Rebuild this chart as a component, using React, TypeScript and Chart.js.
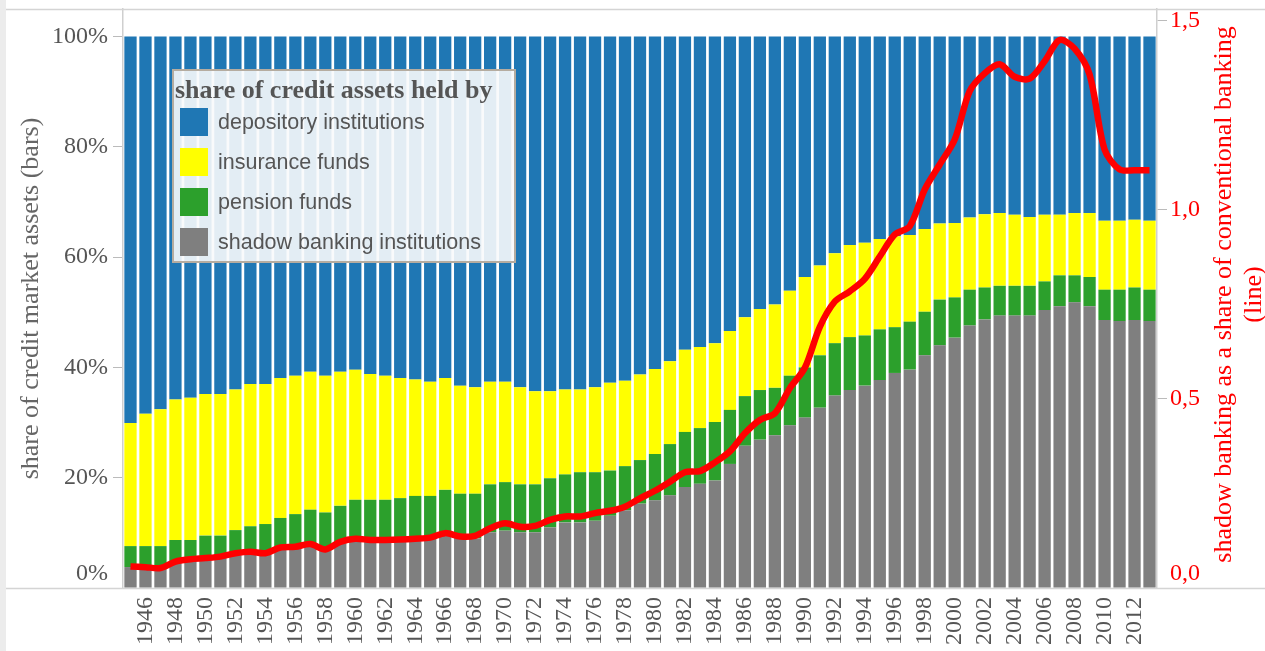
import React, { useEffect, useRef } from 'react';
import { Chart, registerables } from 'chart.js';

Chart.register(...registerables);

const years = [
  1945, 1946, 1947, 1948, 1949, 1950, 1951, 1952, 1953, 1954, 1955, 1956, 1957, 1958, 1959,
  1960, 1961, 1962, 1963, 1964, 1965, 1966, 1967, 1968, 1969, 1970, 1971, 1972, 1973, 1974,
  1975, 1976, 1977, 1978, 1979, 1980, 1981, 1982, 1983, 1984, 1985, 1986, 1987, 1988, 1989,
  1990, 1991, 1992, 1993, 1994, 1995, 1996, 1997, 1998, 1999, 2000, 2001, 2002, 2003, 2004,
  2005, 2006, 2007, 2008, 2009, 2010, 2011, 2012, 2013,
];

// shares of credit market assets, percent
const shadowBanking = [
  3.8, 3.7, 3.6, 4.6, 5.0, 5.3, 5.6, 6.1, 6.4, 6.3, 7.1, 7.3, 7.8, 6.8, 8.1,
  8.7, 8.5, 8.5, 8.6, 8.7, 8.9, 9.7, 9.1, 9.0, 10.1, 10.4, 10.1, 10.1, 11.0, 11.9,
  11.9, 12.2, 13.1, 14.1, 15.3, 15.9, 16.8, 18.3, 18.9, 19.5, 22.5, 25.8, 26.9, 27.7, 29.5,
  30.9, 32.7, 34.9, 35.9, 36.7, 37.7, 39.0, 39.6, 42.2, 44.0, 45.4, 47.6, 48.7, 49.4, 49.4,
  49.4, 50.4, 51.1, 51.8, 51.1, 48.6, 48.4, 48.6, 48.4,
];
const pensionFunds = [
  3.8, 3.9, 4.0, 4.1, 3.7, 4.2, 3.9, 4.4, 4.8, 5.3, 5.6, 6.1, 6.4, 6.9, 6.8,
  7.3, 7.5, 7.5, 7.7, 8.0, 7.8, 8.1, 8.0, 8.1, 8.7, 8.8, 8.7, 8.7, 8.9, 8.7,
  9.1, 8.8, 8.2, 8.0, 7.9, 8.4, 9.3, 10.0, 10.1, 10.6, 9.8, 9.0, 9.0, 8.6, 9.0,
  9.1, 9.5, 9.5, 9.6, 9.1, 9.2, 8.3, 8.7, 7.9, 8.3, 7.3, 6.5, 5.8, 5.4, 5.4,
  5.4, 5.2, 5.6, 4.9, 5.3, 5.5, 5.7, 5.9, 5.7,
];
const insuranceFunds = [
  22.3, 24.0, 24.8, 25.5, 25.8, 25.7, 25.7, 25.5, 25.8, 25.4, 25.4, 25.1, 25.0, 24.8, 24.3,
  23.6, 22.8, 22.5, 21.8, 21.1, 20.7, 20.3, 19.6, 19.3, 18.6, 18.2, 17.6, 16.9, 15.8, 15.4,
  15.0, 15.4, 15.9, 15.5, 15.5, 15.4, 15.0, 14.9, 14.7, 14.3, 14.3, 14.3, 14.7, 15.1, 15.4,
  16.4, 16.3, 16.3, 16.7, 16.8, 16.4, 16.5, 15.7, 15.0, 13.8, 13.5, 13.1, 13.3, 13.2, 12.9,
  12.5, 12.1, 11.0, 11.3, 11.6, 12.5, 12.5, 12.3, 12.5,
];
const depositoryInstitutions = [
  70.1, 68.4, 67.6, 65.8, 65.5, 64.8, 64.8, 64.0, 63.0, 63.0, 61.9, 61.5, 60.8, 61.5, 60.8,
  60.4, 61.2, 61.5, 61.9, 62.2, 62.6, 61.9, 63.3, 63.6, 62.6, 62.6, 63.6, 64.3, 64.3, 64.0,
  64.0, 63.6, 62.8, 62.4, 61.3, 60.3, 58.9, 56.8, 56.3, 55.6, 53.4, 50.9, 49.4, 48.6, 46.1,
  43.6, 41.5, 39.3, 37.8, 37.4, 36.7, 36.2, 36.0, 34.9, 33.9, 33.8, 32.8, 32.2, 32.0, 32.3,
  32.7, 32.3, 32.3, 32.0, 32.0, 33.4, 33.4, 33.2, 33.4,
];
// shadow banking as a share of conventional banking (line, right axis)
const shadowToConventional = [
  0.057, 0.055, 0.053, 0.070, 0.076, 0.079, 0.083, 0.092, 0.096, 0.092, 0.107, 0.109, 0.116, 0.102, 0.122,
  0.130, 0.127, 0.127, 0.128, 0.130, 0.133, 0.145, 0.136, 0.138, 0.158, 0.171, 0.162, 0.164, 0.180, 0.189,
  0.189, 0.198, 0.204, 0.215, 0.237, 0.257, 0.281, 0.306, 0.309, 0.332, 0.361, 0.409, 0.444, 0.462, 0.528,
  0.582, 0.690, 0.757, 0.784, 0.817, 0.876, 0.934, 0.956, 1.053, 1.119, 1.185, 1.313, 1.360, 1.384, 1.351,
  1.346, 1.392, 1.448, 1.425, 1.357, 1.159, 1.106, 1.104, 1.104,
];

const leftTicks = [0, 20, 40, 60, 80, 100];
const rightTicks = [0, 0.5, 1.0, 1.5];

const seriesNames = [
  'depository institutions',
  'insurance funds',
  'pension funds',
  'shadow banking institutions',
];
const legendTitle = 'share of credit assets held by';
const leftTitle = 'share of credit market assets (bars)';
const rightTitle = ['shadow banking as a share of conventional banking', '(line)'];

const COLORS = {
  depository: '#1f77b4',
  insurance: '#ffff00',
  pension: '#2ca02c',
  shadow: '#7f7f7f',
  line: '#ff0000',
};
const legendColors = [COLORS.depository, COLORS.insurance, COLORS.pension, COLORS.shadow];

const SERIF = '"Liberation Serif", "Times New Roman", serif';
const SANS = '"Liberation Sans", Arial, sans-serif';

const W = 1265;
const H = 651;

// the bottom tick label sits a little above its tick, as in the reference
const liftBottom = (text: string, value: number) => (value === 0 ? [text, ''] : text);

const framePlugin = {
  id: 'frame',
  beforeDatasetsDraw(chart: any) {
    const { ctx, chartArea } = chart;
    ctx.save();
    ctx.strokeStyle = '#d4d4d4';
    ctx.lineWidth = 1.5;
    ctx.beginPath();
    ctx.moveTo(6, chartArea.top + 0.5);
    ctx.lineTo(W, chartArea.top + 0.5);
    ctx.moveTo(6, chartArea.bottom + 0.5);
    ctx.lineTo(W, chartArea.bottom + 0.5);
    ctx.stroke();
    ctx.restore();
  },
};

const rightTitlePlugin = {
  id: 'rightTitle',
  afterDraw(chart: any) {
    const { ctx, chartArea } = chart;
    const cy = (chartArea.top + chartArea.bottom) / 2 - 4;
    ctx.save();
    ctx.fillStyle = COLORS.line;
    ctx.font = `26px ${SERIF}`;
    ctx.textAlign = 'center';
    ctx.textBaseline = 'middle';
    rightTitle.forEach((line, k) => {
      ctx.save();
      ctx.translate(chartArea.right + 67 + k * 30, cy);
      ctx.rotate(-Math.PI / 2);
      ctx.fillText(line, 0, 0);
      ctx.restore();
    });
    ctx.restore();
  },
};

export default function App() {
  const canvasRef = useRef<HTMLCanvasElement | null>(null);

  useEffect(() => {
    const canvas = canvasRef.current;
    if (!canvas) return;
    const barCommon = {
      type: 'bar' as const,
      yAxisID: 'y',
      barPercentage: 0.82,
      categoryPercentage: 1.0,
      borderWidth: 0,
      order: 2,
    };
    const chart = new Chart(canvas, {
      type: 'bar',
      data: {
        labels: years.map(String),
        datasets: [
          { ...barCommon, label: seriesNames[3], data: shadowBanking, backgroundColor: COLORS.shadow },
          { ...barCommon, label: seriesNames[2], data: pensionFunds, backgroundColor: COLORS.pension },
          { ...barCommon, label: seriesNames[1], data: insuranceFunds, backgroundColor: COLORS.insurance },
          { ...barCommon, label: seriesNames[0], data: depositoryInstitutions, backgroundColor: COLORS.depository },
          {
            type: 'line' as const,
            label: rightTitle.join(' '),
            data: shadowToConventional,
            yAxisID: 'y1',
            borderColor: COLORS.line,
            borderWidth: 6.5,
            pointRadius: 0,
            tension: 0.3,
            fill: false,
            order: 1,
          } as any,
        ],
      },
      options: {
        animation: false,
        responsive: false,
        maintainAspectRatio: false,
        layout: { padding: { top: 9, left: 0, right: 0, bottom: 0 } },
        plugins: { legend: { display: false }, tooltip: { enabled: false }, title: { display: false } },
        scales: {
          x: {
            stacked: true,
            grid: { display: false, drawTicks: false },
            border: { display: false },
            ticks: {
              autoSkip: false,
              maxRotation: 90,
              minRotation: 90,
              padding: 9,
              color: '#555',
              font: { family: SERIF, size: 24 },
              callback: (_v: any, i: number) => (years[i] % 2 === 0 ? String(years[i]) : ''),
            },
            afterFit: (s: any) => {
              s.height = 63;
              s.paddingLeft = 0;
              s.paddingRight = 0;
            },
          },
          y: {
            stacked: true,
            position: 'left',
            min: 0,
            max: 105,
            afterBuildTicks: (s: any) => {
              s.ticks = leftTicks.map((value) => ({ value }));
            },
            ticks: {
              padding: 5,
              color: '#555',
              font: { family: SERIF, size: 24 },
              callback: (v: any) => liftBottom(`${v}%`, Number(v)),
            },
            grid: { drawOnChartArea: false, drawTicks: true, tickLength: 10, tickColor: '#bbb' },
            border: { display: true, color: '#cfcfcf', width: 1.5 },
            title: {
              display: true,
              text: leftTitle,
              color: '#666',
              font: { family: SERIF, size: 26 },
              padding: { top: 16, bottom: 0 },
            },
            afterFit: (s: any) => {
              s.width = 123;
              s.paddingTop = 0;
              s.paddingBottom = 0;
            },
          },
          y1: {
            position: 'right',
            min: 0,
            max: 1.53,
            afterBuildTicks: (s: any) => {
              s.ticks = rightTicks.map((value) => ({ value }));
            },
            ticks: {
              padding: 3,
              color: COLORS.line,
              font: { family: SERIF, size: 24 },
              callback: (v: any) => liftBottom(Number(v).toFixed(1).replace('.', ','), Number(v)),
            },
            grid: { drawOnChartArea: false, drawTicks: true, tickLength: 10, tickColor: '#bbb' },
            border: { display: true, color: '#cfcfcf', width: 1.5 },
            afterFit: (s: any) => {
              s.width = 108;
              s.paddingTop = 0;
              s.paddingBottom = 0;
            },
          },
        },
      } as any,
      plugins: [framePlugin, rightTitlePlugin],
    });
    return () => chart.destroy();
  }, []);

  const itemTops = [108, 148, 188, 228];

  return (
    <div style={{ position: 'fixed', left: 0, top: 0, width: W, height: H, background: '#fff', overflow: 'hidden' }}>
      <div style={{ position: 'absolute', left: 0, top: 0, width: 6, height: H, background: '#ececec' }} />
      <canvas ref={canvasRef} width={W} height={H} style={{ position: 'absolute', left: 0, top: 0, display: 'block' }} />
      <div
        style={{
          position: 'absolute',
          left: 172,
          top: 69,
          width: 344,
          height: 194,
          boxSizing: 'border-box',
          border: '2px solid #b5aca0',
          background: 'rgba(248,249,251,0.9)',
        }}
      >
        <div
          style={{
            position: 'absolute',
            left: 1,
            top: 4,
            whiteSpace: 'nowrap',
            fontFamily: SERIF,
            fontWeight: 'bold',
            fontSize: 26,
            lineHeight: '30px',
            color: '#555',
          }}
        >
          {legendTitle}
        </div>
        {seriesNames.map((name, k) => (
          <div key={name}>
            <div
              style={{
                position: 'absolute',
                left: 6,
                top: itemTops[k] - 71,
                width: 28,
                height: 28,
                background: legendColors[k],
              }}
            />
            <div
              style={{
                position: 'absolute',
                left: 44,
                top: itemTops[k] - 71,
                height: 28,
                lineHeight: '28px',
                whiteSpace: 'nowrap',
                fontFamily: SANS,
                fontSize: 21.5,
                color: '#555',
              }}
            >
              {name}
            </div>
          </div>
        ))}
      </div>
    </div>
  );
}
